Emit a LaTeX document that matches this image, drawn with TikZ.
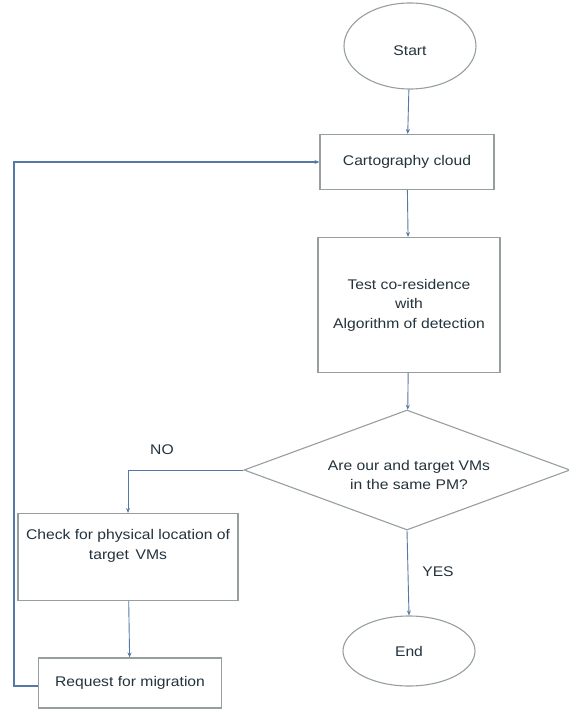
\documentclass[tikz,border=0pt]{standalone}
\usepackage{fontspec}
\setmainfont{Liberation Sans}[FakeStretch=1.12]
\usetikzlibrary{shapes.geometric,arrows.meta}
\definecolor{edgegray}{RGB}{150,158,158}
\definecolor{flowblue}{RGB}{86,120,165}
\definecolor{inkdark}{RGB}{35,50,60}
\begin{document}
\begin{tikzpicture}[x=1pt,y=1pt,
  every node/.style={font=\fontsize{14}{19.5}\selectfont, text=inkdark},
  terminal/.style={ellipse, draw=edgegray, line width=1.1pt, inner sep=0pt},
  procbox/.style={rectangle, draw=edgegray, line width=1.1pt, inner sep=0pt, align=center},
  decision/.style={diamond, draw=edgegray, line width=1.1pt, inner sep=0pt, align=center, aspect=2.7},
  flow/.style={draw=flowblue, line width=0.9pt, -{Stealth[length=5pt,width=4pt]}},
  loopline/.style={draw=flowblue, line width=1.2pt, -{Stealth[length=5pt,width=4pt]}}
]
\useasboundingbox (0,0) rectangle (569,-712);

\node[terminal, minimum width=132, minimum height=86] (start) at (410,-46) {};
\node (starttext) at (410,-51) {Start};
\node[procbox, minimum width=174, minimum height=55] (carto) at (407,-162) {Cartography cloud};
\node[procbox, minimum width=182, minimum height=135] (test) at (409,-305)
  {Test co-residence\\with\\Algorithm of detection};
\node[decision, minimum width=326, minimum height=120] (dec) at (407,-470) {};
\node (dectext) at (409,-475) [align=center] {Are our and target VMs\\in the same PM?};
\node[procbox, minimum width=220, minimum height=87] (check) at (128,-557) {};
\node (checktext) at (128,-546) [align=center] {Check for physical location of\\target\, VMs};
\node[procbox, minimum width=183, minimum height=50] (req) at (130,-683) {Request for migration};
\node[terminal, minimum width=132, minimum height=70] (end) at (409,-651) {End};

\node (nolabel) at (162,-450) {NO};
\node (yeslabel) at (438,-572) {YES};

\coordinate (nocorner) at (128,-470);
\coordinate (loopbottom) at (14,-686);
\coordinate (looptop) at (14,-162);

\draw[flow] (start) -- (carto);
\draw[flow] (carto) -- (test);
\draw[flow] (test) -- (dec);
\draw[flow] (dec.west) -- (nocorner) -- (check.north);
\draw[flow] (dec.south) -- (end.north);
\draw[flow] (check) -- (req);
\draw[loopline] (req.west |- loopbottom) -- (loopbottom) -- (looptop) -- (carto.west);
\end{tikzpicture}
\end{document}
